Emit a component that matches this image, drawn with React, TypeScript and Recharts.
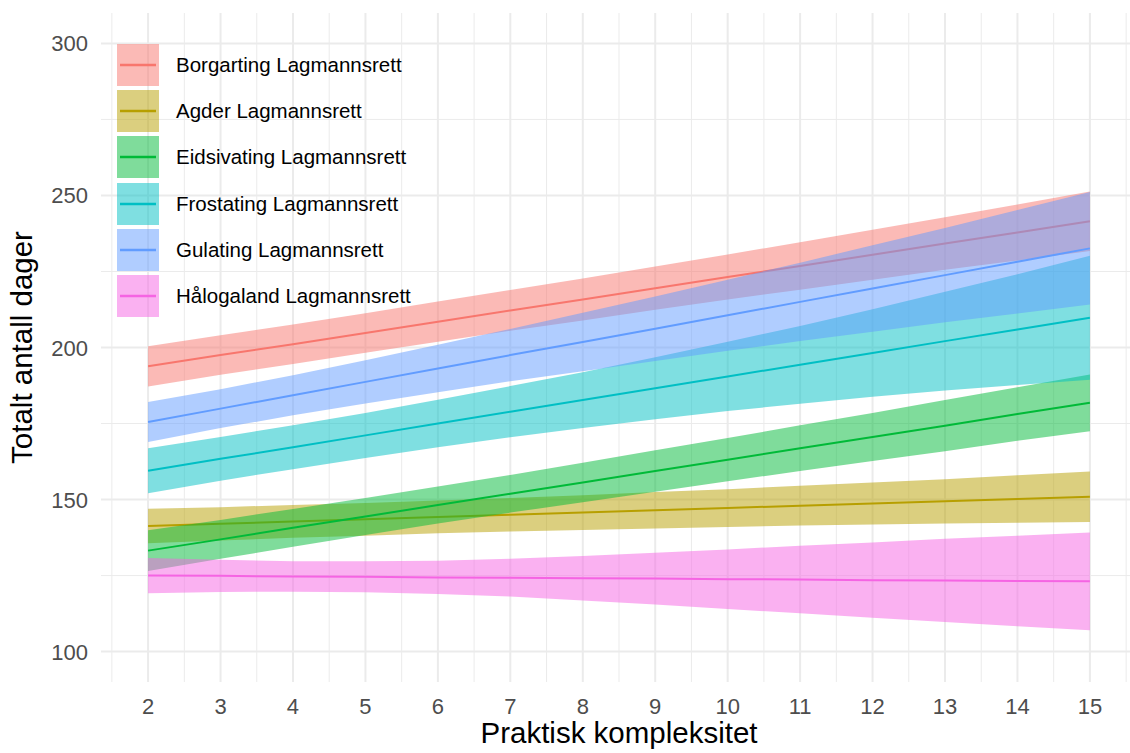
import React from 'react';
import { Area, CartesianGrid, ComposedChart, XAxis, YAxis } from 'recharts';

const FONT = '"Liberation Sans", Arial, sans-serif';

const xValues = [2, 3, 4, 5, 6, 7, 8, 9, 10, 11, 12, 13, 14, 15];
const xMinorTicks = [1.5, 2.5, 3.5, 4.5, 5.5, 6.5, 7.5, 8.5, 9.5, 10.5, 11.5, 12.5, 13.5, 14.5, 15.5];
const yTicks = [100, 150, 200, 250, 300];
const yMinorTicks = [125, 175, 225, 275];

const courts = [
  'Borgarting Lagmannsrett',
  'Agder Lagmannsrett',
  'Eidsivating Lagmannsrett',
  'Frostating Lagmannsrett',
  'Gulating Lagmannsrett',
  'Hålogaland Lagmannsrett',
];
const colors = ['#F8766D', '#B79F00', '#00BA38', '#00BFC4', '#619CFF', '#F564E3'];

// fitted value and ribbon bounds at each x
const borgartingFit = [193.8, 197.5, 201.1, 204.8, 208.5, 212.2, 215.8, 219.5, 223.2, 226.8, 230.5, 234.2, 237.8, 241.5];
const borgartingLow = [187.2, 191.0, 194.6, 198.3, 201.9, 205.5, 208.9, 212.4, 215.8, 219.0, 222.3, 225.6, 228.6, 231.7];
const borgartingHigh = [200.4, 204.0, 207.6, 211.3, 215.1, 218.9, 222.7, 226.6, 230.6, 234.6, 238.7, 242.8, 247.0, 251.3];

const agderFit = [141.3, 142.0, 142.8, 143.5, 144.3, 145.0, 145.7, 146.5, 147.2, 148.0, 148.7, 149.4, 150.2, 150.9];
const agderLow = [135.6, 136.5, 137.4, 138.1, 138.9, 139.5, 140.0, 140.5, 141.0, 141.5, 141.8, 142.1, 142.4, 142.6];
const agderHigh = [147.0, 147.5, 148.2, 148.9, 149.7, 150.5, 151.4, 152.5, 153.4, 154.5, 155.6, 156.7, 158.0, 159.2];

const eidsivatingFit = [133.2, 136.9, 140.7, 144.4, 148.2, 151.9, 155.6, 159.4, 163.1, 166.9, 170.6, 174.3, 178.1, 181.8];
const eidsivatingLow = [126.5, 130.5, 134.5, 138.3, 142.1, 145.7, 149.1, 152.6, 156.0, 159.4, 162.7, 165.9, 169.3, 172.5];
const eidsivatingHigh = [139.9, 143.3, 146.9, 150.5, 154.3, 158.1, 162.1, 166.2, 170.2, 174.4, 178.5, 182.7, 186.9, 191.1];

const frostatingFit = [159.5, 163.4, 167.2, 171.1, 175.0, 178.9, 182.7, 186.6, 190.5, 194.3, 198.2, 202.1, 205.9, 209.8];
const frostatingLow = [152.1, 156.2, 160.0, 163.7, 167.2, 170.5, 173.5, 176.4, 179.1, 181.5, 183.8, 185.9, 187.7, 189.4];
const frostatingHigh = [166.9, 170.6, 174.4, 178.5, 182.8, 187.3, 191.9, 196.8, 201.9, 207.1, 212.6, 218.3, 224.1, 230.2];

const gulatingFit = [175.5, 179.9, 184.3, 188.7, 193.1, 197.5, 201.8, 206.2, 210.6, 215.0, 219.4, 223.8, 228.2, 232.6];
const gulatingLow = [168.9, 173.5, 177.7, 181.6, 185.3, 188.9, 192.2, 195.6, 198.9, 202.1, 205.2, 208.3, 211.2, 214.1];
const gulatingHigh = [182.1, 186.3, 190.9, 195.8, 200.9, 206.1, 211.4, 216.8, 222.3, 227.9, 233.6, 239.3, 245.2, 251.1];

const halogalandFit = [125.0, 124.9, 124.7, 124.6, 124.4, 124.3, 124.1, 124.0, 123.8, 123.7, 123.5, 123.4, 123.2, 123.1];
const halogalandLow = [119.2, 119.6, 119.7, 119.5, 118.9, 118.1, 116.8, 115.5, 114.0, 112.6, 111.1, 109.7, 108.3, 107.0];
const halogalandHigh = [130.8, 130.2, 129.7, 129.7, 129.9, 130.5, 131.4, 132.5, 133.6, 134.8, 135.9, 137.1, 138.1, 139.2];

const series = [
  { key: 'borgarting', fit: borgartingFit, low: borgartingLow, high: borgartingHigh },
  { key: 'agder', fit: agderFit, low: agderLow, high: agderHigh },
  { key: 'eidsivating', fit: eidsivatingFit, low: eidsivatingLow, high: eidsivatingHigh },
  { key: 'frostating', fit: frostatingFit, low: frostatingLow, high: frostatingHigh },
  { key: 'gulating', fit: gulatingFit, low: gulatingLow, high: gulatingHigh },
  { key: 'halogaland', fit: halogalandFit, low: halogalandLow, high: halogalandHigh },
].map((s, i) => ({ ...s, name: courts[i], color: colors[i] }));

const data = xValues.map((x, i) => {
  const row: Record<string, number | number[]> = { x };
  series.forEach((s) => {
    row[s.key + 'Fit'] = s.fit[i];
    row[s.key + 'Band'] = [s.low[i], s.high[i]];
  });
  return row;
});

const XTick = ({ x, payload }: any) => (
  <text x={x} y={714} textAnchor="middle" fontSize={22} fill="#4D4D4D" fontFamily={FONT}>
    {payload.value}
  </text>
);

const YTick = ({ y, payload }: any) => (
  <text x={88} y={y} dy={8} textAnchor="end" fontSize={22} fill="#4D4D4D" fontFamily={FONT}>
    {payload.value}
  </text>
);

const NoTick = () => null;

function LegendBox() {
  return (
    <div style={{ position: 'absolute', left: 117, top: 44, fontFamily: FONT }}>
      {series.map((s) => (
        <div key={s.key} style={{ display: 'flex', alignItems: 'center', height: 42, marginBottom: 4.2 }}>
          <svg width={42} height={42} style={{ display: 'block' }}>
            <rect x={0} y={0} width={42} height={42} fill={s.color} fillOpacity={0.5} />
            <line x1={3} x2={39} y1={21} y2={21} stroke={s.color} strokeWidth={2.5} />
          </svg>
          <span style={{ marginLeft: 17, fontSize: 20.5, color: '#000', whiteSpace: 'nowrap' }}>{s.name}</span>
        </div>
      ))}
    </div>
  );
}

export default function App() {
  return (
    <div style={{ position: 'absolute', left: 0, top: 0, width: 1130, height: 753, overflow: 'hidden', background: '#fff' }}>
      <ComposedChart width={1140} height={753} data={data} margin={{ top: 13, right: 3, bottom: 0, left: 0 }}>
        <CartesianGrid xAxisId="minor" yAxisId="minor" stroke="#EBEBEB" strokeWidth={1} syncWithTicks />
        <CartesianGrid stroke="#EBEBEB" strokeWidth={2} syncWithTicks />
        <XAxis
          xAxisId="minor"
          type="number"
          dataKey="x"
          domain={[1.35, 15.65]}
          allowDataOverflow
          ticks={xMinorTicks}
          interval={0}
          tick={<NoTick />}
          axisLine={false}
          tickLine={false}
          height={0}
        />
        <XAxis
          type="number"
          dataKey="x"
          domain={[1.35, 15.65]}
          allowDataOverflow
          ticks={xValues}
          interval={0}
          tick={<XTick />}
          axisLine={false}
          tickLine={false}
          height={71}
          label={{ value: 'Praktisk kompleksitet', position: 'insideBottom', offset: 10, fontSize: 29.5, fill: '#000', fontFamily: FONT }}
        />
        <YAxis
          yAxisId="minor"
          type="number"
          domain={[90, 310]}
          allowDataOverflow
          ticks={yMinorTicks}
          interval={0}
          tick={<NoTick />}
          axisLine={false}
          tickLine={false}
          width={0}
        />
        <YAxis
          type="number"
          domain={[90, 310]}
          allowDataOverflow
          ticks={yTicks}
          interval={0}
          tick={<YTick />}
          axisLine={false}
          tickLine={false}
          width={101}
          label={{
            value: 'Totalt antall dager',
            angle: -90,
            position: 'insideLeft',
            offset: 22,
            fontSize: 29.5,
            fill: '#000',
            fontFamily: FONT,
            style: { textAnchor: 'middle' },
          }}
        />
        {/* ribbon then fitted line per court, so later ribbons sit over earlier lines */}
        {series.flatMap((s) => [
          <Area
            key={s.key + 'Band'}
            type="linear"
            dataKey={s.key + 'Band'}
            fill={s.color}
            fillOpacity={0.5}
            stroke="none"
            dot={false}
            activeDot={false}
            isAnimationActive={false}
          />,
          <Area
            key={s.key + 'Fit'}
            type="linear"
            dataKey={s.key + 'Fit'}
            fill="none"
            fillOpacity={0}
            stroke={s.color}
            strokeWidth={2}
            dot={false}
            activeDot={false}
            isAnimationActive={false}
          />,
        ])}
      </ComposedChart>
      <LegendBox />
    </div>
  );
}
